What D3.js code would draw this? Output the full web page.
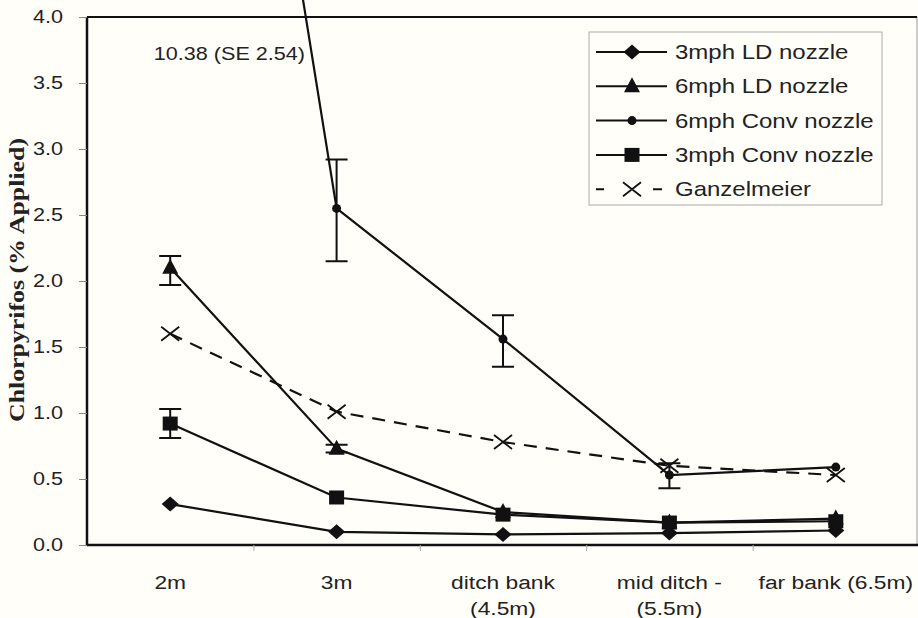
<!DOCTYPE html>
<html>
<head>
<meta charset="utf-8">
<script src="https://cdn.jsdelivr.net/npm/d3@7"></script>
<style>
  body { margin: 0; background: #fffef9; }
  svg { display: block; background: #fffef9; }
  text { font-family: Arial, "Liberation Sans", sans-serif; fill: #222; }
</style>
</head>
<body>
<svg id="chart" width="918" height="618"></svg>
<script>
// categories along x
let sites = ["2m", "3m", "ditch bank|(4.5m)", "mid ditch -|(5.5m)", "far bank (6.5m)"];

// series values (% applied)
let ld3 = [0.31, 0.10, 0.08, 0.09, 0.11];
let ld6 = [2.10, 0.73, 0.25, 0.17, 0.20];
let conv6 = [10.38, 2.55, 1.56, 0.53, 0.59];
let conv3 = [0.92, 0.36, 0.23, 0.17, 0.18];
let ganz = [1.60, 1.01, 0.78, 0.60, 0.53];

// error bars: [series, site index, low, high]
let errBars = [
  ["ld6", 0, 1.97, 2.19],
  ["ld6", 1, 0.70, 0.76],
  ["conv3", 0, 0.81, 1.03],
  ["conv6", 1, 2.15, 2.92],
  ["conv6", 2, 1.35, 1.74],
  ["conv6", 3, 0.43, 0.62]
];

let yTicks = [0, 0.5, 1, 1.5, 2, 2.5, 3, 3.5, 4];

let svg = d3.select("#chart"),
    width = +svg.attr("width"),
    height = +svg.attr("height");

let pLeft = 87, pRight = 919, pTop = 17, pBottom = 545;
let sx = 1.2; // the scan is stretched sideways, text too

let x = d3.scalePoint().domain(sites).range([pLeft, pRight]).padding(0.5);
let y = d3.scaleLinear().domain([0, 4]).range([pBottom, pTop]);

let series = [
  { key: "ld3", name: "3mph LD nozzle", vals: ld3, sym: "diamond", dash: null },
  { key: "ld6", name: "6mph LD nozzle", vals: ld6, sym: "triangle", dash: null },
  { key: "conv6", name: "6mph Conv nozzle", vals: conv6, sym: "circle", dash: null },
  { key: "conv3", name: "3mph Conv nozzle", vals: conv3, sym: "square", dash: null },
  { key: "ganz", name: "Ganzelmeier", vals: ganz, sym: "cross", dash: "13,9" }
];

function drawMarker(g, sym, cx, cy) {
  if (sym === "diamond") {
    g.append("path").attr("d", `M${cx},${cy - 7.5}L${cx + 8.5},${cy}L${cx},${cy + 7.5}L${cx - 8.5},${cy}Z`).attr("fill", "#111");
  } else if (sym === "triangle") {
    g.append("path").attr("d", `M${cx},${cy - 9}L${cx + 8},${cy + 6}L${cx - 8},${cy + 6}Z`).attr("fill", "#111");
  } else if (sym === "circle") {
    g.append("circle").attr("cx", cx).attr("cy", cy).attr("r", 4.5).attr("fill", "#111");
  } else if (sym === "square") {
    g.append("rect").attr("x", cx - 7.5).attr("y", cy - 7).attr("width", 15).attr("height", 14).attr("fill", "#111");
  } else if (sym === "cross") {
    g.append("path").attr("d", `M${cx - 9},${cy - 7}L${cx + 9},${cy + 7}M${cx - 9},${cy + 7}L${cx + 9},${cy - 7}`)
      .attr("stroke", "#111").attr("stroke-width", 1.8).attr("fill", "none");
  }
}

// text with the sideways stretch of the scan
function wideText(g, tx, ty, str, size, anchor) {
  return g.append("text").attr("transform", `translate(${tx},${ty}) scale(${sx},1)`)
    .attr("text-anchor", anchor || "start").style("font-size", size + "px").attr("fill", "#222").text(str);
}

// frame
svg.append("rect").attr("x", pLeft).attr("y", pTop).attr("width", 917 - pLeft).attr("height", pBottom - pTop)
  .attr("fill", "none").attr("stroke", "#999").attr("stroke-width", 1);
svg.append("line").attr("x1", pLeft).attr("x2", 917).attr("y1", pTop).attr("y2", pTop).attr("stroke", "#111").attr("stroke-width", 2);
svg.append("line").attr("x1", pLeft).attr("x2", pLeft).attr("y1", pTop).attr("y2", pBottom).attr("stroke", "#111").attr("stroke-width", 2.5);

// y axis
let yAxis = svg.append("g").attr("transform", `translate(${pLeft},0)`)
  .call(d3.axisLeft(y).tickValues(yTicks).tickFormat(d3.format(".1f")).tickSize(8));
yAxis.select(".domain").remove();
yAxis.selectAll("line").attr("stroke", "#888");
yAxis.selectAll("text").attr("x", -24 / sx).attr("transform", `scale(${sx},1)`)
  .style("font-size", "18px").attr("fill", "#333").attr("font-family", "Arial, Liberation Sans, sans-serif");

// x axis
let xb = d3.scaleLinear().domain([0, 5]).range([pLeft, pRight]);
let xAxis = svg.append("g").attr("transform", `translate(0,${pBottom})`)
  .call(d3.axisBottom(xb).tickValues([1, 2, 3, 4]).tickFormat("").tickSize(6).tickSizeOuter(0));
xAxis.select(".domain").attr("stroke", "#111").attr("stroke-width", 2.5).attr("d", `M${pLeft},0H918`);
xAxis.selectAll(".tick line").attr("stroke", "#aaa");

sites.forEach(s => {
  let parts = s.split("|");
  let t = svg.append("text").attr("transform", `translate(${x(s)},589) scale(${sx},1)`).attr("text-anchor", "middle")
    .style("font-size", "19px").attr("fill", "#222");
  parts.forEach((p, i) => t.append("tspan").attr("x", 0).attr("dy", i === 0 ? 0 : 26).text(p));
});

// y label
svg.append("text").attr("transform", "translate(24,280) rotate(-90)").attr("text-anchor", "middle")
  .style("font-family", "'Liberation Serif', 'Times New Roman', serif").style("font-weight", "bold").style("font-size", "21px")
  .attr("textLength", 284).attr("lengthAdjust", "spacingAndGlyphs")
  .attr("fill", "#111").text("Chlorpyrifos  (% Applied)");

// lines
let line = d3.line().x((d, i) => x(sites[i])).y(d => y(d));
let plot = svg.append("g");
series.forEach(s => {
  plot.append("path").datum(s.vals).attr("d", line).attr("fill", "none").attr("stroke", "#111")
    .attr("stroke-width", 2.2).attr("stroke-dasharray", s.dash);
});

// error bars
errBars.forEach(e => {
  let cx = x(sites[e[1]]);
  plot.append("path").attr("d", `M${cx},${y(e[2])}V${y(e[3])}M${cx - 11},${y(e[2])}H${cx + 11}M${cx - 11},${y(e[3])}H${cx + 11}`)
    .attr("stroke", "#111").attr("stroke-width", 2).attr("fill", "none");
});

// markers
series.forEach(s => {
  s.vals.forEach((v, i) => {
    if (v <= 4) drawMarker(plot, s.sym, x(sites[i]), y(v));
  });
});

// annotation for off-scale point
wideText(svg, 305, 60, "10.38 (SE 2.54)", 18, "end");

// legend
let lg = svg.append("g");
lg.append("rect").attr("x", 589).attr("y", 32).attr("width", 293).attr("height", 173)
  .attr("fill", "#fffef9").attr("stroke", "#aaa").attr("stroke-width", 1);
series.forEach((s, i) => {
  let ly = 52 + i * 34.3;
  if (s.dash) {
    lg.append("path").attr("d", `M596,${ly}H604M653,${ly}H662`).attr("stroke", "#111").attr("stroke-width", 2);
  } else {
    lg.append("line").attr("x1", 596).attr("x2", 667).attr("y1", ly).attr("y2", ly).attr("stroke", "#111").attr("stroke-width", 2);
  }
  drawMarker(lg, s.sym, 632, ly);
  wideText(lg, 675, ly + 7, s.name, 20);
});
</script>
</body>
</html>
